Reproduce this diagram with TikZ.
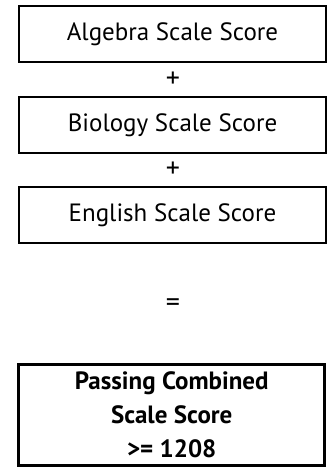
\documentclass[tikz,border=0pt]{standalone}
\usepackage{fontspec}
\setmainfont{PT Sans}

\begin{document}
\begin{tikzpicture}[x=1pt,y=-1pt,
    scorebox/.style={draw,line width=1.5pt,minimum width=307pt,minimum
      height=56pt,inner sep=0pt,font=\fontsize{25}{28}\selectfont},
    passbox/.style={scorebox,line width=3pt,minimum width=306pt,minimum
      height=101pt,align=center,font=\fontsize{25}{34}\selectfont\bfseries},
    opsign/.style={font=\fontsize{28}{30}\selectfont}]
  \useasboundingbox (0,0) rectangle (328,470);

  \foreach \subj/\y in {Algebra/34,Biology/125,English/215} {
    \node[scorebox] (\subj) at (172.5,\y) {\subj{} Scale Score};
  }
  \node[opsign] (plusA) at (173,80) {+};
  \node[opsign] (plusB) at (173,170) {+};
  \node[opsign] (equals) at (173,305) {=};

  \node[passbox] (pass) at (171.7,414.7) {Passing Combined\\Scale Score\\>= 1208};

\end{tikzpicture}
\end{document}
